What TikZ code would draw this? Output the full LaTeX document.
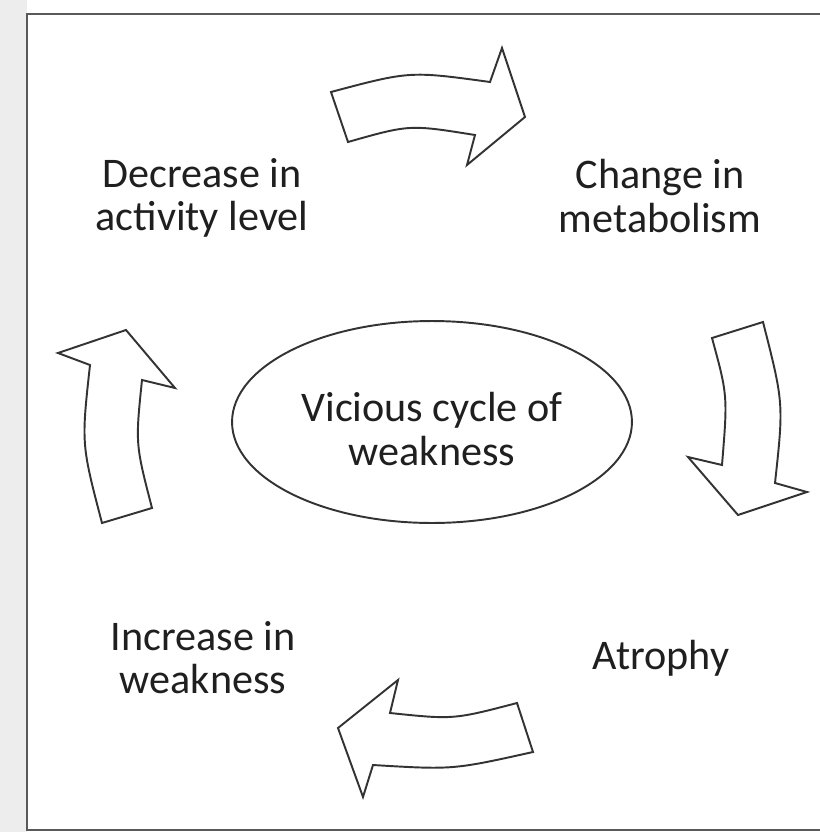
\documentclass[tikz,border=0pt]{standalone}
\usepackage{fontspec}
\setmainfont{Carlito}
\usetikzlibrary{shapes.geometric}

\begin{document}
\begin{tikzpicture}[x=0.02cm, y=-0.02cm,
  stage/.style={align=center, text=black!88, font=\fontsize{24}{24.5}\selectfont},
  blockarrow/.style={draw=black!80, line width=1.1pt, fill=white, line join=miter}]
\useasboundingbox (0,0) rectangle (820,832);
% Background and frame
\fill[black!7] (0,0) rectangle (27,832);
\draw[black!65, line width=1.3pt] (821,14) -- (27,14) -- (27,830) -- (821,830);
% Centre
\node[draw=black!80, line width=1.1pt, ellipse, minimum width=8cm, minimum height=4.04cm,
  inner sep=0pt] (cycle) at (432,422) {};
\node[stage] (cycletext) at (432,429) {Vicious cycle of\\weakness};
% Stages
\node[stage] (decrease) at (202,198) {Decrease in\\activity level};
\node[stage] (change) at (660,196) {Change in\\metabolism};
\node[stage] (atrophy) at (661,658) {Atrophy};
\node[stage] (increase) at (203,658) {Increase in\\weakness};
% Block arrows
\draw[blockarrow] (331,92) .. controls (409.8,71) .. (490,82) -- (502,48) -- (525,117)
  -- (467,165) -- (475,135) .. controls (409.5,124.5) .. (348,142) -- cycle;
\draw[blockarrow] (763,322) .. controls (783.7,403.2) .. (775,483) -- (807,492) -- (738,515)
  -- (688,457) -- (722,465) .. controls (727.7,395.5) .. (712,338) -- cycle;
\draw[blockarrow] (533,752) .. controls (453,769.8) .. (373,765) -- (363,797) -- (338,728)
  -- (398,680) -- (390,713) .. controls (453.5,719.6) .. (517,703) -- cycle;
\draw[blockarrow] (102,523) -- (152,508) .. controls (135.4,444) .. (142,380) -- (175,388)
  -- (126,330) -- (58,353) -- (90,365) .. controls (81.3,444) .. cycle;
\end{tikzpicture}
\end{document}
